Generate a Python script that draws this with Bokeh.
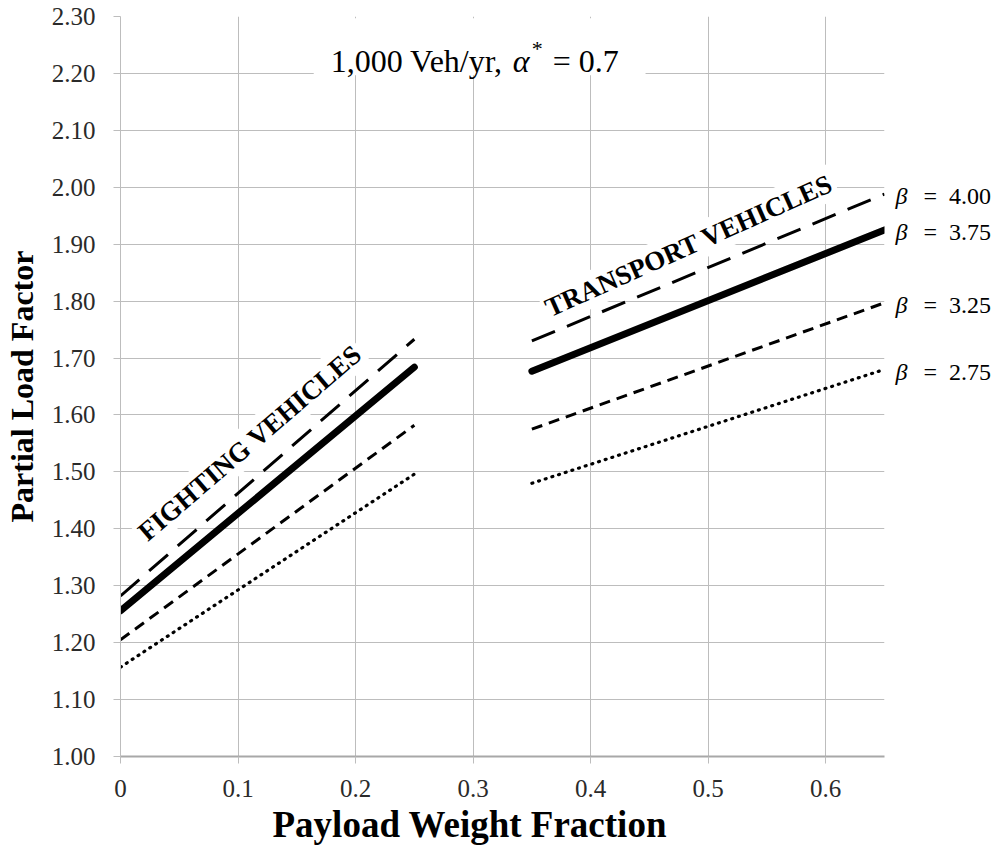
from bokeh.plotting import figure
from bokeh.models import (Range1d, FixedTicker, NumeralTickFormatter, Label, BoxAnnotation,
                          LinearAxis, Title)
from bokeh.embed import file_html
from bokeh.resources import INLINE

# ---- data ----
fight_x = [0.0, 0.25]
trans_x = [0.35, 0.65]
beta_names = ["4.00", "3.75", "3.25", "2.75"]
fight_b400 = [1.282, 1.733]
fight_b375 = [1.256, 1.684]
fight_b325 = [1.205, 1.582]
fight_b275 = [1.157, 1.496]
trans_b400 = [1.730, 1.988]
trans_b375 = [1.677, 1.925]
trans_b325 = [1.575, 1.797]
trans_b275 = [1.480, 1.680]
x_ticks = [0.0, 0.1, 0.2, 0.3, 0.4, 0.5, 0.6]
x_tick_labels = ["0", "0.1", "0.2", "0.3", "0.4", "0.5", "0.6"]
y_ticks = [1.0, 1.1, 1.2, 1.3, 1.4, 1.5, 1.6, 1.7, 1.8, 1.9, 2.0, 2.1, 2.2, 2.3]

SERIF = "Liberation Serif"
GRID = "#bdbdbd"

p = figure(width=999, height=848, output_backend="svg", toolbar_location=None,
           x_range=Range1d(0, 0.65), y_range=Range1d(1.0, 2.3),
           min_border_left=120, min_border_right=115, min_border_top=16, min_border_bottom=92)
p.outline_line_color = None
p.background_fill_color = "white"
p.border_fill_color = "white"

# grids
p.xgrid.ticker = FixedTicker(ticks=x_ticks)
p.ygrid.ticker = FixedTicker(ticks=y_ticks)
p.grid.grid_line_color = GRID
p.grid.grid_line_width = 1

# axes
p.xaxis.ticker = FixedTicker(ticks=x_ticks)
p.yaxis.ticker = FixedTicker(ticks=y_ticks)
p.xaxis.major_label_overrides = {t: l for t, l in zip(x_ticks, x_tick_labels)}
p.yaxis.formatter = NumeralTickFormatter(format="0.00")
for ax in (p.xaxis[0], p.yaxis[0]):
    ax.major_tick_out = 7
    ax.major_tick_in = 0
    ax.minor_tick_line_color = None
    ax.major_tick_line_color = GRID
    ax.axis_line_color = GRID
    ax.major_label_text_font = SERIF
    ax.major_label_text_font_size = "25px"
    ax.major_label_text_color = "#2a2a2a"
p.xaxis.axis_line_color = "#a8a8a8"
p.xaxis.axis_line_width = 2
p.xaxis.major_label_standoff = 16
p.yaxis.major_label_standoff = 18

p.yaxis.axis_label = "Partial Load Factor"
p.yaxis.axis_label_text_font = SERIF
p.yaxis.axis_label_text_font_size = "32px"
p.yaxis.axis_label_text_font_style = "bold"
p.yaxis.axis_label_text_color = "black"
p.yaxis.axis_label_standoff = 9

# x-axis title placed below the axis
p.add_layout(Title(text="Payload Weight Fraction", text_font=SERIF, text_font_size="37px",
                   text_font_style="bold", text_color="black", align="left", offset=152,
                   standoff=4), "below")

# lines
styles = [
    dict(line_width=3, line_dash="25 13", line_cap="butt"),
    dict(line_width=7, line_cap="round"),
    dict(line_width=3, line_dash="11 7", line_cap="butt"),
    dict(line_width=3.2, line_dash="1 6", line_cap="round"),
]
fight_sets = [fight_b400, fight_b375, fight_b325, fight_b275]
trans_sets = [trans_b400, trans_b375, trans_b325, trans_b275]
for fy, ty, st in zip(fight_sets, trans_sets, styles):
    p.line(fight_x, fy, line_color="black", **st)
    p.line(trans_x, ty, line_color="black", **st)

# beta labels at the right end of the transport lines (two label-only right axes)
end_ticks = [ty[-1] - 0.004 for ty in trans_sets]
beta_axis = LinearAxis(ticker=FixedTicker(ticks=end_ticks),
                       major_label_overrides={t: "β" for t in end_ticks},
                       major_label_text_font=SERIF, major_label_text_font_size="24px",
                       major_label_text_font_style="italic", major_label_text_color="black",
                       major_label_standoff=11, major_tick_out=0, major_tick_in=0,
                       axis_line_color=None, major_tick_line_color=None,
                       minor_tick_line_color=None)
value_axis = LinearAxis(ticker=FixedTicker(ticks=end_ticks),
                        major_label_overrides={t: "=\u00a0\u00a0" + n for t, n in zip(end_ticks, beta_names)},
                        major_label_text_font=SERIF, major_label_text_font_size="24px",
                        major_label_text_color="black",
                        major_label_standoff=13, major_tick_out=0, major_tick_in=0,
                        axis_line_color=None, major_tick_line_color=None,
                        minor_tick_line_color=None)
p.add_layout(beta_axis, "right")
p.add_layout(value_axis, "right")

# group labels
p.add_layout(Label(x=0.110, y=1.551, text="FIGHTING VEHICLES", angle=40.6, angle_units="deg",
                   text_font=SERIF, text_font_size="27px", text_font_style="bold",
                   text_align="center", text_baseline="middle", text_color="black",
                   background_fill_color="white", padding=3))
p.add_layout(Label(x=0.4835, y=1.8976, text="TRANSPORT VEHICLES", angle=24.1, angle_units="deg",
                   text_font=SERIF, text_font_size="27px", text_font_style="bold",
                   text_align="center", text_baseline="middle", text_color="black",
                   background_fill_color="white", padding=3))

# title box
p.add_layout(BoxAnnotation(left=0.1644, right=0.4467, bottom=2.197, top=2.297,
                           fill_color="white", fill_alpha=1.0, line_color=None))
tx, ty0 = 0.1788, 2.2227
p.add_layout(Label(x=tx, y=ty0, text="1,000 Veh/yr,", text_font=SERIF, text_font_size="32px",
                   text_baseline="alphabetic", text_color="black"))
p.add_layout(Label(x=tx, y=ty0, x_offset=182, text="α", text_font=SERIF, text_font_size="32px",
                   text_font_style="italic", text_baseline="alphabetic", text_color="black"))
p.add_layout(Label(x=tx, y=ty0, x_offset=201, y_offset=12, text="*", text_font=SERIF,
                   text_font_size="22px", text_baseline="alphabetic", text_color="black"))
p.add_layout(Label(x=tx, y=ty0, x_offset=222, text="= 0.7", text_font=SERIF,
                   text_font_size="32px", text_baseline="alphabetic", text_color="black"))

open("out.html", "w").write(file_html(p, INLINE))
